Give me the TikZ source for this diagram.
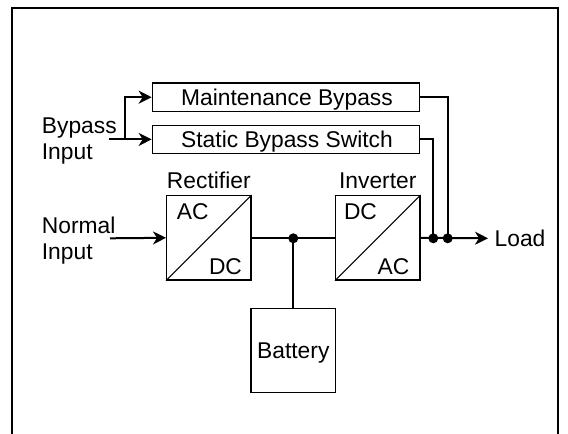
\documentclass[tikz,border=0pt]{standalone}
\usepackage{fontspec}
\setmainfont{Liberation Sans}
\usetikzlibrary{arrows.meta}
\begin{document}
\begin{tikzpicture}[x=1pt,y=-1pt,
  every node/.style={font=\fontsize{22.8}{26}\selectfont},
  box/.style={draw, line width=1.3pt, inner sep=0pt, text height=16.3pt, text depth=0pt},
  conv/.style={box, minimum width=84.3pt, minimum height=84.3pt},
  wire/.style={line width=2pt},
  arr/.style={wire, -{Stealth[length=13pt,width=13pt,inset=4pt]}},
  dot/.style={circle, fill, inner sep=0pt, minimum size=10pt},
  lbl/.style={inner sep=0pt, text height=16.3pt, text depth=0pt}]
\useasboundingbox (0,0) rectangle (568,434);
% frame
\draw[line width=2.5pt] (12,440) -- (12,8) -- (558,8) -- (558,440);
% boxes
\node[box, minimum width=267.4pt, minimum height=28.5pt] (mb) at (286,97.2) {\hspace{2pt}Maintenance Bypass};
\node[box, minimum width=267.4pt, minimum height=27.8pt] (sb) at (286,139.4) {\hspace{2pt}Static Bypass Switch};
\node[conv] (rect) at (208.8,237.8) {};
\node[conv] (inv) at (377.8,237.8) {};
\node[box, minimum width=84.7pt, minimum height=84.4pt] (bat) at (293.3,350.5) {Battery};
\draw[line width=1pt] (rect.south west) -- (rect.north east);
\draw[line width=1pt] (inv.south west) -- (inv.north east);
% labels
\node[lbl, anchor=base] (rlab) at (208.8,188) {Rectifier};
\node[lbl, anchor=base] (ilab) at (377.8,188) {Inverter};
\node[lbl, anchor=base] (rac) at (192.8,219) {AC};
\node[lbl, anchor=base] (rdc) at (225.5,274.3) {DC};
\node[lbl, anchor=base] (idc) at (360.5,219) {DC};
\node[lbl, anchor=base] (iac) at (393.5,274.3) {AC};
\node[inner sep=0pt, align=left, anchor=north west] (bypin) at (41.7,117.7) {Bypass\\Input};
\node[inner sep=0pt, align=left, anchor=north west] (normin) at (41.7,217) {Normal\\Input};
\node[lbl, anchor=west, inner xsep=6.5pt] (load) at (488,238.3) {Load};
% connectors
\coordinate (nin) at (110,238.3);
\coordinate (bin) at (109,139.4);
\coordinate (br) at (125,139.4);
\draw[arr] (nin) -- (rect.west);
\draw[arr] (bin) -- (sb.west);
\draw[arr] (br) |- (mb.west);
\draw[wire] (rect.east) -- (inv.west);
\node[dot] (j1) at (293.3,238.3) {};
\draw[wire] (j1.center) -- (bat.north);
\node[dot] (j2) at (433.3,238.3) {};
\node[dot] (j3) at (447.7,238.3) {};
\draw[wire] (sb.east) -| (j2.center);
\draw[wire] (mb.east) -| (j3.center);
\draw[arr] (inv.east) -- (load.west);
\end{tikzpicture}
\end{document}
